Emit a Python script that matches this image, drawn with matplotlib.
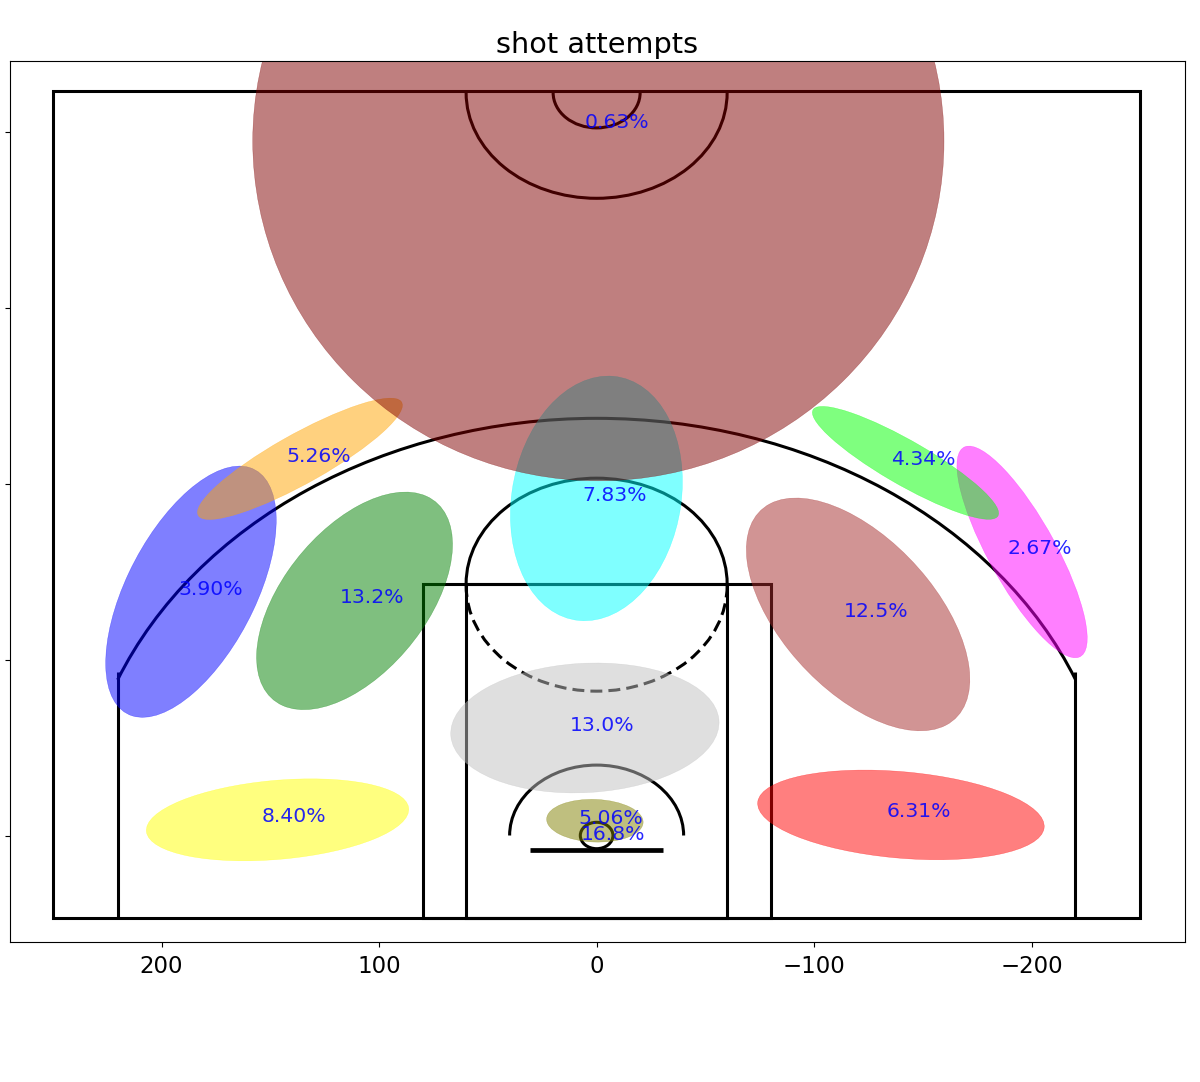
import matplotlib
matplotlib.use("Agg")
import matplotlib.pyplot as plt
from matplotlib.patches import Circle, Rectangle, Arc, Ellipse

plt.rcParams['font.family'] = ['DejaVu Sans']

# shot clusters: centre, axes, rotation (data units), colour, share
colors = ['blue', 'magenta', 'lime', 'green', 'brown', 'yellow', 'red',
          'silver', 'cyan', 'orange', 'olive', 'maroon']
center_x = [186.5, -195.6, -142.0, 111.3, -120.2, 146.7, -139.9, 5.4, 0.1, 136.4, 0.8, -0.8]
center_y = [139.0, 161.6, 212.2, 133.8, 126.1, 9.4, 12.2, 61.6, 192.0, 214.5, 8.9, 395.0]
widths = [151.0, 130.5, 104.3, 136.0, 149.5, 121.3, 132.5, 123.6, 139.6, 113.6, 44.4, 317.8]
heights = [61.0, 32.0, 23.8, 70.0, 75.5, 44.8, 49.0, 73.4, 78.0, 26.8, 24.2, 386.0]
angles = [-69.1, 66.4, 35.9, -60.9, 57.3, -6.5, 6.5, -4.4, -83.5, -35.1, 3.0, 0.0]

labels = ['3.90%', '4.34%', '2.67%', '13.2%', '12.5%', '8.40%', '6.31%',
          '13.0%', '7.83%', '5.26%', '5.06%', '0.63%', '16.8%']
label_x = [177.6, -150.2, -203.5, 103.1, -128.6, 139.0, -148.3, -2.6, -8.1, 128.0, -6.7, -9.5, -7.7]
label_y = [140.3, 214.2, 163.6, 135.8, 127.8, 11.4, 14.2, 63.0, 193.8, 215.9, 10.2, 405.7, 1.1]

x_ticks = [200, 100, 0, -100, -200]
y_ticks = [0, 100, 200, 300, 400]

W, H = 1200, 1082
fig = plt.figure(figsize=(W / 100, H / 100), dpi=100)
ax = fig.add_axes([10 / W, 1 - 942 / H, 1175 / W, 881 / H])

lw = 2.2
dash = (0, (3.9, 2.0))
court = [
    Circle((0, 0.5), 7.5, lw=lw, color='k', fill=False),
    Rectangle((-30.5, -8), 61, 0, lw=3.4, color='k'),
    Rectangle((-80, -46.5), 160, 190, lw=lw, color='k', fill=False),
    Rectangle((-60, -46.5), 120, 190, lw=lw, color='k', fill=False),
    Arc((0, 143.5), 120, 120, theta1=0, theta2=180, lw=lw, color='k'),
    Arc((0, 142.5), 120, 120, theta1=180, theta2=360, lw=lw, color='k', linestyle=dash),
    Arc((0, 0.5), 80, 80, theta1=0, theta2=180, lw=lw, color='k'),
    Rectangle((-220, -46.5), 0, 140, lw=lw, color='k'),
    Rectangle((220, -46.5), 0, 140, lw=lw, color='k'),
    Arc((0, 0), 475, 475, theta1=22, theta2=158, lw=lw, color='k'),
    Arc((0, 422.5), 120, 120, theta1=180, theta2=360, lw=lw, color='k'),
    Arc((0, 422.5), 40, 40, theta1=180, theta2=360, lw=lw, color='k'),
    Rectangle((-250, -46.5), 500, 470, lw=lw, color='k', fill=False),
]
for p in court:
    ax.add_patch(p)

for c, cx, cy, w, h, a in zip(colors, center_x, center_y, widths, heights, angles):
    ax.add_patch(Ellipse((cx, cy), w, h, angle=a, color=c, alpha=0.5, lw=0.3))

for t, x, y in zip(labels, label_x, label_y):
    ax.text(x, y, t, color='blue', fontsize=14.7, ha='center', va='center', alpha=0.85)

ax.set_xlim(269.7, -270.5)
ax.set_ylim(-60, 440.5)
ax.set_xticks(x_ticks)
ax.set_yticks(y_ticks)
ax.set_yticklabels([])
ax.tick_params(axis='x', labelsize=16.5, pad=6)
ax.set_title('shot attempts', fontsize=20.7, pad=6)
fig.savefig('out.png', dpi=100)
